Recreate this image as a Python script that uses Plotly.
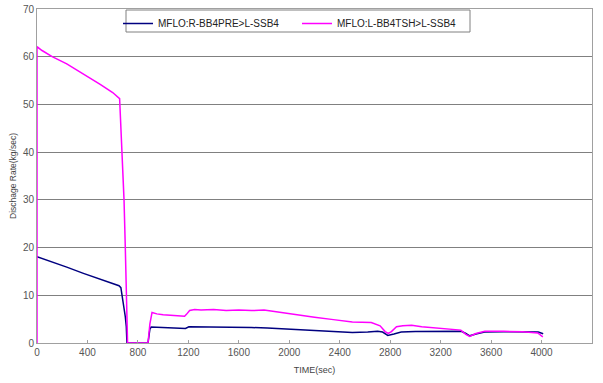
import plotly.graph_objects as go

time_blue = [0, 100, 236, 368, 501, 600, 650, 665, 675, 690, 700, 708, 713, 880, 895, 905, 1000, 1100, 1177, 1204, 1400, 1561, 1700, 1826, 2000, 2091, 2200, 2357, 2500, 2622, 2700, 2740, 2781, 2830, 2887, 3000, 3152, 3364, 3400, 3430, 3480, 3549, 3700, 3974, 4013]
flow_blue = [18.1, 17.2, 15.9, 14.6, 13.4, 12.5, 12.0, 11.6, 10.0, 7.5, 5.5, 3.4, 0, 0, 2.9, 3.35, 3.2, 3.1, 3.05, 3.4, 3.4, 3.35, 3.25, 3.15, 2.9, 2.7, 2.5, 2.25, 2.2, 2.3, 2.45, 2.3, 1.6, 1.9, 2.3, 2.4, 2.45, 2.45, 2.0, 1.5, 1.9, 2.3, 2.35, 2.3, 1.95]

time_mag = [0, 0, 40, 120, 236, 368, 501, 600, 655, 662, 672, 680, 690, 700, 710, 718, 880, 895, 912, 950, 1000, 1100, 1170, 1185, 1210, 1250, 1300, 1400, 1500, 1600, 1700, 1800, 1850, 2000, 2100, 2200, 2350, 2500, 2650, 2720, 2760, 2785, 2810, 2850, 2900, 2970, 3050, 3150, 3250, 3360, 3400, 3430, 3480, 3550, 3700, 3850, 3970, 4010]
flow_mag = [0, 62.1, 61.3, 60.0, 58.5, 56.4, 54.2, 52.5, 51.2, 47, 41, 35, 30, 20, 10, 0, 0, 4, 6.4, 6.1, 5.9, 5.8, 5.6, 6.0, 6.8, 7.0, 6.9, 7.0, 6.8, 6.9, 6.8, 6.9, 6.7, 6.2, 5.8, 5.4, 4.9, 4.4, 4.3, 3.6, 2.4, 2.0, 2.4, 3.4, 3.6, 3.7, 3.4, 3.2, 3.0, 2.7, 1.8, 1.4, 2.0, 2.45, 2.45, 2.35, 2.1, 1.3]

name_blue = "MFLO:R-BB4PRE>L-SSB4"
name_mag = "MFLO:L-BB4TSH>L-SSB4"

FONT = "Liberation Sans, Arial, sans-serif"

L, R, T, B = 37, 11, 9, 40
PW, PH = 603 - L - R, 383 - T - B

fig = go.Figure()
fig.add_trace(go.Scatter(x=time_blue, y=flow_blue, mode="lines", name=name_blue,
                         line=dict(color="#000080", width=1.5)))
fig.add_trace(go.Scatter(x=time_mag, y=flow_mag, mode="lines", name=name_mag,
                         line=dict(color="#FF00FF", width=1.5)))

fig.update_layout(
    width=603, height=383,
    margin=dict(l=L, r=R, t=T, b=B, autoexpand=False),
    paper_bgcolor="white", plot_bgcolor="white",
    font=dict(family=FONT, size=10, color="#444"),
    legend=dict(orientation="h", x=(118 - L) / PW, xanchor="left",
                y=(343 - 9) / PH, yanchor="top",
                bgcolor="rgba(0,0,0,0)", borderwidth=0,
                font=dict(family=FONT, size=10, color="#222"),
                entrywidth=134, itemwidth=30, tracegroupgap=0),
    shapes=[dict(type="rect", xref="paper", yref="paper",
                 x0=(126 - L) / PW, x1=(470 - L) / PW,
                 y0=(343 - 32) / PH, y1=(343 - 10) / PH,
                 line=dict(color="#808080", width=1), fillcolor="white", layer="above")],
    xaxis=dict(range=[0, 4400], dtick=400, tick0=0, showgrid=False, automargin=False,
               showline=True, linecolor="#a0a0a0", linewidth=1, mirror=True,
               ticks="inside", ticklen=3, tickcolor="#a0a0a0",
               zeroline=False,
               title=dict(text="TIME(sec)", font=dict(size=9, color="#444"), standoff=9),
               tickfont=dict(size=10, color="#555")),
    yaxis=dict(range=[0, 70], dtick=10, tick0=0, showgrid=True, gridcolor="#808080", gridwidth=1,
               showline=True, linecolor="#a0a0a0", linewidth=1, mirror=True, automargin=False,
               zeroline=False, ticks="",
               title=dict(text="Dischage Rate(kg/sec)", font=dict(size=8.5, color="#444"), standoff=4),
               tickfont=dict(size=10, color="#555")),
)

fig.write_html("out.html", config={"displayModeBar": False},
               post_script="document.body.style.margin='0';")
